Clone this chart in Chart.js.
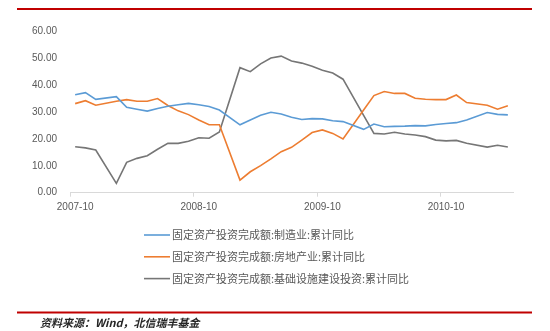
<!DOCTYPE html>
<html>
<head>
<meta charset="utf-8">
<title>固定资产投资完成额累计同比</title>
<script src="https://cdn.jsdelivr.net/npm/chart.js@4.4.0/dist/chart.umd.min.js"></script>
<style>
  html, body { margin: 0; padding: 0; background: #ffffff; }
  #wrap { width: 550px; height: 331px; }
</style>
</head>
<body>
<div id="wrap"><canvas id="faiChart" width="550" height="331"></canvas></div>
<script>
// Monthly categories, Oct 2007 - Apr 2011 (January has no release, left blank)
const months = [
    '2007-10', '2007-11', '2007-12',
    '2008-01', '2008-02', '2008-03', '2008-04', '2008-05', '2008-06',
    '2008-07', '2008-08', '2008-09', '2008-10', '2008-11', '2008-12',
    '2009-01', '2009-02', '2009-03', '2009-04', '2009-05', '2009-06',
    '2009-07', '2009-08', '2009-09', '2009-10', '2009-11', '2009-12',
    '2010-01', '2010-02', '2010-03', '2010-04', '2010-05', '2010-06',
    '2010-07', '2010-08', '2010-09', '2010-10', '2010-11', '2010-12',
    '2011-01', '2011-02', '2011-03', '2011-04'
];
const labeledMonths = ['2007-10', '2008-10', '2009-10', '2010-10'];

// Cumulative YoY growth (%)
const manufacturing = [
    36.5, 37.3, 34.8, null, 35.8, 31.8, 31.1, 30.4, 31.4, 32.2, 32.8, 33.3, 32.8, 32.1, 30.8,
    null, 25.3, 27.1, 28.9, 30.0, 29.3, 28.1, 27.3, 27.6, 27.5, 26.8, 26.5,
    null, 23.6, 25.6, 24.6, 24.7, 24.8, 25.0, 24.9, 25.4, 25.8, 26.1, 27.1,
    null, 29.9, 29.2, 29.0
];
const realEstate = [
    33.2, 34.3, 32.6, null, 34.1, 34.7, 34.1, 34.1, 35.1, 32.5, 30.5, 29.1, 27.1, 25.3, 25.3,
    null, 4.7, 7.8, 10.1, 12.6, 15.3, 16.9, 19.6, 22.4, 23.4, 22.1, 20.0,
    null, 30.8, 36.2, 37.7, 37.0, 37.0, 35.2, 34.8, 34.7, 34.7, 36.4, 33.6,
    null, 32.6, 31.1, 32.4
];
const infrastructure = [
    17.1, 16.7, 15.9, null, 3.5, 11.3, 12.8, 13.8, 16.2, 18.4, 18.4, 19.2, 20.5, 20.3, 22.6,
    null, 46.6, 45.1, 48.0, 50.2, 50.9, 49.1, 48.3, 47.1, 45.6, 44.6, 42.3,
    null, 28.8, 22.1, 21.9, 22.5, 21.9, 21.5, 20.9, 19.6, 19.3, 19.5, 18.4,
    null, 17.0, 17.7, 17.0
];

const seriesNames = [
    '固定资产投资完成额:制造业:累计同比',
    '固定资产投资完成额:房地产业:累计同比',
    '固定资产投资完成额:基础设施建设投资:累计同比'
];
const seriesColors = ['#5b9bd5', '#ed7d31', '#767676'];
const yMin = 0;
const yMax = 60;
const yStep = 10;
const sourceNote = '资料来源：Wind，北信瑞丰基金';

const LATIN_FONT = '"Liberation Sans", Arial, sans-serif';
const CJK_FONT = '"Noto Sans CJK SC", sans-serif';
const TEXT_GREY = '#595959';

// Red header/footer rules, stacked legend and source line
const reportFrame = {
    id: 'reportFrame',
    afterDraw(chart) {
        const ctx = chart.ctx;
        ctx.save();

        ctx.strokeStyle = '#c00000';
        ctx.lineWidth = 2;
        ctx.beginPath();
        ctx.moveTo(17, 9);
        ctx.lineTo(532, 9);
        ctx.moveTo(17, 312.5);
        ctx.lineTo(532, 312.5);
        ctx.stroke();

        // one legend entry per row
        ctx.font = '11px ' + CJK_FONT;
        ctx.textBaseline = 'middle';
        ctx.textAlign = 'left';
        chart.data.datasets.forEach((ds, i) => {
            const y = 235 + i * 21.8;
            ctx.strokeStyle = ds.borderColor;
            ctx.lineWidth = 1.6;
            ctx.beginPath();
            ctx.moveTo(144, y);
            ctx.lineTo(170, y);
            ctx.stroke();
            ctx.fillStyle = TEXT_GREY;
            ctx.fillText(ds.label, 172, y);
        });

        ctx.font = 'italic bold 11px ' + CJK_FONT;
        ctx.fillStyle = '#262626';
        ctx.fillText(sourceNote, 40, 322.5);

        ctx.restore();
    }
};

function buildDatasets() {
    return [manufacturing, realEstate, infrastructure].map((values, i) => ({
        label: seriesNames[i],
        data: values,
        borderColor: seriesColors[i],
        backgroundColor: seriesColors[i],
        borderWidth: 1.6,
        pointRadius: 0,
        tension: 0,
        spanGaps: true
    }));
}

const chart = new Chart(document.getElementById('faiChart'), {
    type: 'line',
    data: {
        labels: months,
        datasets: buildDatasets()
    },
    options: {
        responsive: false,
        animation: false,
        devicePixelRatio: 1,
        layout: {
            padding: { top: 31.7, right: 37, bottom: 108.3, left: 0 }
        },
        plugins: {
            legend: { display: false },
            tooltip: { enabled: false }
        },
        scales: {
            x: {
                type: 'category',
                offset: true,
                border: { color: '#d9d9d9', width: 1 },
                grid: {
                    offset: true,
                    drawOnChartArea: false,
                    tickLength: 4,
                    color: (c) => labeledMonths.includes(months[c.index]) ? '#d9d9d9' : 'rgba(0,0,0,0)'
                },
                ticks: {
                    autoSkip: false,
                    maxRotation: 0,
                    padding: 5,
                    color: TEXT_GREY,
                    font: { family: LATIN_FONT, size: 10 },
                    callback: function(value) {
                        const m = this.getLabelForValue(value);
                        return labeledMonths.includes(m) ? m : '';
                    }
                },
                afterFit: (scale) => { scale.height = 30; }
            },
            y: {
                min: yMin,
                max: yMax,
                border: { display: false },
                grid: { display: false, drawTicks: false },
                ticks: {
                    stepSize: yStep,
                    padding: 13,
                    color: TEXT_GREY,
                    font: { family: LATIN_FONT, size: 10 },
                    callback: (v) => v.toFixed(2)
                },
                afterFit: (scale) => { scale.width = 70; }
            }
        }
    },
    plugins: [reportFrame]
});
</script>
</body>
</html>
